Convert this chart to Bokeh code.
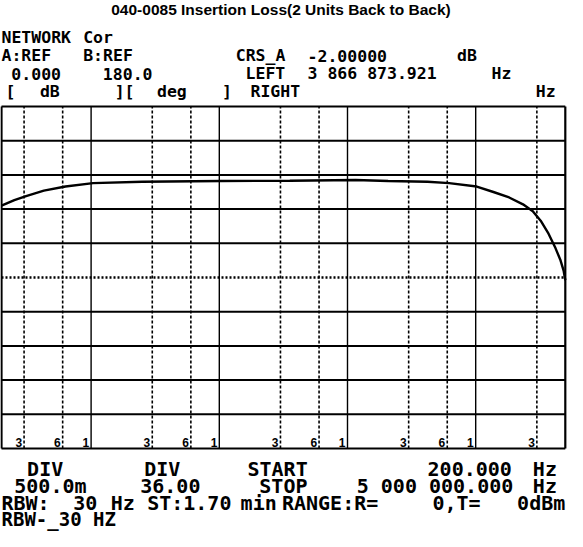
import math
from bokeh.plotting import figure
from bokeh.models import Range1d, Label
from bokeh.embed import file_html
from bokeh.resources import INLINE

# ---------------- data ----------------
freq_hz = [200, 252, 311, 428, 631, 1035, 2504, 10280, 35460, 115800, 207500,
           420800, 620800, 1019000, 1375000, 1824000, 2338000, 2788000, 3212000,
           3700000, 4190000, 4570000, 4850000, 5000000]
loss_db = [-1.45, -1.37, -1.31, -1.23, -1.17, -1.12, -1.10, -1.09, -1.085, -1.075, -1.09,
           -1.10, -1.12, -1.17, -1.25, -1.33, -1.43, -1.53, -1.67,
           -1.86, -2.07, -2.24, -2.40, -2.54]

start_hz = 200
stop_hz = 5000000
ref_db = 0.0
div_db = 0.5
n_div = 10

major_freqs = [1e3, 1e4, 1e5, 1e6]
minor_freqs = [300, 600, 3e3, 6e3, 3e4, 6e4, 3e5, 6e5, 3e6]
tick_freqs = [300, 600, 1e3, 3e3, 6e3, 1e4, 3e4, 6e4, 1e5, 3e5, 6e5, 1e6, 3e6]
tick_labels = ["3", "6", "1", "3", "6", "1", "3", "6", "1", "3", "6", "1", "3"]

title_text = "040-0085 Insertion Loss(2 Units Back to Back)"
# (text, left x in reference pixels)
header_lines = [
    [("NETWORK", 7), ("Cor", 90)],
    [("A:REF", 7), ("B:REF", 90), ("CRS_A", 245), ("-2.00000", 318), ("dB", 470)],
    [("0.000", 17), ("180.0", 110), ("LEFT", 255), ("3 866 873.921", 318), ("Hz", 505)],
    [("[", 11), ("dB", 46), ("][", 122), ("deg", 165), ("]", 231), ("RIGHT", 260), ("Hz", 550)],
]
footer_lines = [
    [("DIV", 33), ("DIV", 152), ("START", 257), ("200.000", 440), ("Hz", 547)],
    [("500.0m", 20), ("36.00", 148), ("STOP", 269), ("5 000 000.000", 368), ("Hz", 547)],
    [("RBW:", 7), ("30", 80), ("Hz", 118), ("ST:1.70", 155), ("min", 250), ("RANGE:R=", 292),
     ("0,T=", 445), ("0dBm", 531)],
    [("RBW-_30 HZ", 7)],
]

# ---------------- layout ----------------
W, H = 567, 531
box_l, box_r = 1.0, 564.8          # screen px of start/stop
box_t, box_b = 106.0, 448.0        # screen px of top/bottom
px_per_dec = (box_r - box_l) / math.log10(stop_hz / start_hz)
x_start = start_hz * 10 ** (-box_l / px_per_dec)
x_end = start_hz * 10 ** ((W - box_l) / px_per_dec)
top_db = ref_db
bot_db = ref_db - n_div * div_db
px_per_db = (box_b - box_t) / (top_db - bot_db)
y_top = top_db + box_t / px_per_db
y_bot = bot_db - (H - box_b) / px_per_db

p = figure(width=W, height=H, x_axis_type="log", output_backend="svg",
           toolbar_location=None, x_axis_location=None, y_axis_location=None,
           x_range=Range1d(x_start, x_end), y_range=Range1d(y_bot, y_top),
           min_border=0, min_border_left=0, min_border_right=0,
           min_border_top=0, min_border_bottom=0)
p.outline_line_color = None
p.xgrid.visible = False
p.ygrid.visible = False
p.background_fill_color = "white"

# horizontal division lines
h_levels = [ref_db - i * div_db for i in range(1, n_div)]
mid = ref_db - n_div / 2 * div_db
solid_h = [v for v in h_levels if abs(v - mid) > 1e-9]
p.segment(x0=[start_hz] * len(solid_h), x1=[stop_hz] * len(solid_h), y0=solid_h, y1=solid_h,
          line_color="black", line_width=2)
p.segment(x0=[start_hz], x1=[stop_hz], y0=[mid], y1=[mid],
          line_color="black", line_width=2.6, line_dash="2 2")

# vertical lines
p.segment(x0=major_freqs, x1=major_freqs, y0=[bot_db] * len(major_freqs), y1=[top_db] * len(major_freqs),
          line_color="black", line_width=1.4)
p.segment(x0=minor_freqs, x1=minor_freqs, y0=[bot_db] * len(minor_freqs), y1=[top_db] * len(minor_freqs),
          line_color="black", line_width=1.6, line_dash="3 2")

# border
p.segment(x0=[start_hz, start_hz, start_hz, stop_hz], x1=[stop_hz, stop_hz, start_hz, stop_hz],
          y0=[top_db, bot_db, bot_db, bot_db], y1=[top_db, bot_db, top_db, top_db],
          line_color="black", line_width=2.2)

# frequency marks at bottom
p.text(x=tick_freqs, y=[bot_db] * len(tick_freqs), text=tick_labels,
       x_offset=-2, y_offset=-2, text_align="right", text_baseline="bottom",
       text_font_size="12px", text_font_style="bold", text_color="black")

# trace
p.line(freq_hz, loss_db, line_color="black", line_width=2.4)

# ---------------- texts ----------------
def cx(rx):
    return (rx - 7) * 0.984 + 1

def add(text, rx, ry, size, font="DejaVu Sans Mono", align="left"):
    p.add_layout(Label(x=cx(rx), y=H - (ry - 8), x_units="screen", y_units="screen",
                       text=text, text_font=font, text_font_size=size,
                       text_font_style="bold", text_align=align,
                       text_baseline="middle", text_color="black"))

add(title_text, 291, 17, "15.5px", font="Liberation Sans", align="center")
for row, ry in zip(header_lines, [45, 63, 81, 99]):
    for txt, rx in row:
        add(txt, rx, ry, "16.5px")
for row, ry, sz in zip(footer_lines, [476, 493, 510, 526], ["20px", "20px", "20px", "19px"]):
    for txt, rx in row:
        add(txt, rx, ry, sz)

open("out.html", "w").write(file_html(p, INLINE))
